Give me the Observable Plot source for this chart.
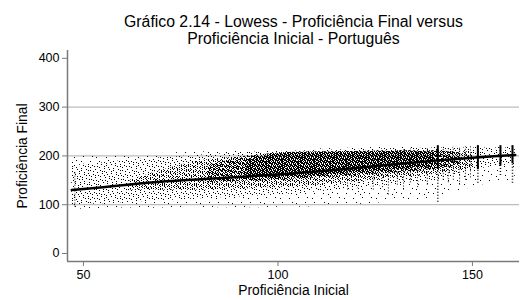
<!DOCTYPE html>
<html>
<head>
<meta charset="utf-8">
<script src="https://cdn.jsdelivr.net/npm/d3@7"></script>
<script src="https://cdn.jsdelivr.net/npm/@observablehq/plot@0.6"></script>
<style>
  html, body { margin: 0; padding: 0; background: #fff; }
  #chart { width: 520px; height: 300px; }
</style>
</head>
<body>
<svg id="patterns" width="0" height="0" style="position:absolute;left:0;top:0"><defs></defs></svg>
<div id="chart"></div>
<script>
// ---------------- DATA ----------------
const titleLines = ["Gráfico 2.14 - Lowess - Proficiência Final versus", "Proficiência Inicial - Português"];
const xTitle = "Proficiência Inicial";
const yTitle = "Proficiência Final";
const xTicks = [50, 100, 150];
const yTicks = [0, 100, 200, 300, 400];
const gridValues = [100, 200, 300];

// Lowess curve
const lowessX = [47, 55, 60, 70, 80, 90, 100, 110, 120, 130, 140, 150, 161];
const lowessY = [130, 136, 140, 147, 152, 157, 162, 168, 175, 183, 190, 196, 202];

// Point cloud envelopes by bins of Proficiência Inicial
const binX       = [47, 50, 55, 60, 65, 70, 75, 80, 85, 90, 95, 100, 105, 110, 115, 120, 125, 130, 135, 140, 145, 150, 155, 161];
const outerLow   = [90, 91, 92, 93, 93, 93, 94, 94, 94, 94, 94, 95, 95, 96, 98, 100, 103, 106, 110, 115, 125, 135, 145, 150];
const outerHigh  = [198, 199, 200, 202, 203, 205, 207, 208, 209, 210, 211, 212, 213, 214, 215, 216, 217, 218, 219, 220, 221, 221, 221, 221];
const sparseLow  = [98, 100, 102, 104, 106, 108, 110, 112, 114, 116, 118, 120, 123, 126, 130, 134, 138, 142, 146, 150, 158, 170, 178, 182];
const sparseHigh = [180, 183, 186, 190, 193, 196, 199, 202, 204, 206, 208, 209, 210, 211, 212, 213, 214, 215, 215, 216, 216, 216, 216, 216];
const medX       = [62, 70, 80, 90, 100, 110, 120, 130, 140, 150];
const medLow     = [130, 130, 130, 132, 135, 140, 147, 155, 162, 175];
const medHigh    = [150, 170, 190, 198, 205, 208, 209, 210, 210, 208];
const denseX     = [82, 90, 100, 110, 120, 130, 140, 147];
const denseLow   = [145, 148, 150, 155, 160, 165, 172, 182];
const denseHigh  = [180, 195, 206, 208, 209, 210, 210, 206];
const blackX     = [92, 100, 110, 120, 130, 140];
const blackLow   = [155, 156, 160, 166, 172, 178];
const blackHigh  = [190, 204, 207, 208, 209, 208];

// Columns of points at frequent score values
const columnX        = [47.8, 117.9, 120.7, 124.5, 126.9, 128.4, 130.7, 132.3, 134.1, 135.9, 138.4, 142.5, 143.8, 145.1, 146.7, 148.2, 149.5];
const columnLow      = [95, 130, 125, 130, 135, 120, 140, 130, 145, 135, 140, 150, 145, 150, 140, 150, 155];
const columnHigh     = [165, 205, 208, 210, 212, 210, 212, 213, 214, 214, 215, 218, 218, 218, 219, 219, 220];
const stripeX        = [141.1, 151.4, 157.2, 160.3];
const stripeLow      = [105, 144, 160, 144];
const stripeSolidLow = [172, 172, 180, 184];
const stripeHigh     = [221, 221, 221, 221];

// ---------------- STYLE: nested dot textures (low-discrepancy tile) ----------------
const TILE = 32;
const textureCounts = {fringe: 30, sparse: 110, medium: 290, dense: 560, black: 820};
const NS = "http://www.w3.org/2000/svg";
const defs = document.querySelector("#patterns defs");
for (const [id, n] of Object.entries(textureCounts)) {
  const p = document.createElementNS(NS, "pattern");
  p.setAttribute("id", id);
  p.setAttribute("width", TILE); p.setAttribute("height", TILE);
  p.setAttribute("patternUnits", "userSpaceOnUse");
  for (let i = 0; i < n; i++) {
    const r = document.createElementNS(NS, "rect");
    r.setAttribute("x", Math.floor(((0.5 + i * 0.7548776662) % 1) * TILE));
    r.setAttribute("y", Math.floor(((0.5 + i * 0.5698402910) % 1) * TILE));
    r.setAttribute("width", 1); r.setAttribute("height", 1);
    r.setAttribute("fill", "#000");
    p.appendChild(r);
  }
  defs.appendChild(p);
}

// ---------------- TABLES ----------------
const outer = binX.map((x, i) => ({x, lo: outerLow[i], hi: outerHigh[i]}));
const sparse = binX.map((x, i) => ({x, lo: sparseLow[i], hi: sparseHigh[i]}));
const medium = medX.map((x, i) => ({x, lo: medLow[i], hi: medHigh[i]}));
const dense = denseX.map((x, i) => ({x, lo: denseLow[i], hi: denseHigh[i]}));
const black = blackX.map((x, i) => ({x, lo: blackLow[i], hi: blackHigh[i]}));
const columns = columnX.map((x, i) => ({x, lo: columnLow[i], hi: columnHigh[i]}));
const stripes = stripeX.map((x, i) => ({x, lo: stripeLow[i], solid: stripeSolidLow[i], hi: stripeHigh[i]}));
const lowess = lowessX.map((x, i) => ({x, y: lowessY[i]}));

const xDomain = [45.9, 162.1];
const yDomain = [-16.4, 416];
const axisColor = "#7a7a7a";
const band = (data, fill) => Plot.areaY(data, {x: "x", y1: "lo", y2: "hi", fill, curve: "catmull-rom"});

const chart = Plot.plot({
  width: 520,
  height: 300,
  marginLeft: 67,
  marginRight: 1,
  marginTop: 50,
  marginBottom: 39,
  style: {fontFamily: "'Liberation Sans', Arial, sans-serif", fontSize: "12.5px", color: "#000", background: "#fff"},
  x: {domain: xDomain, axis: null},
  y: {domain: yDomain, axis: null},
  marks: [
    Plot.ruleY(gridValues, {stroke: "#bdbdbd", strokeWidth: 1.3}),
    band(outer, "url(#fringe)"),
    band(sparse, "url(#sparse)"),
    band(medium, "url(#medium)"),
    band(dense, "url(#dense)"),
    band(black, "url(#black)"),
    Plot.ruleX(columns, {x: "x", y1: "lo", y2: "hi", stroke: "#111", strokeWidth: 1, strokeDasharray: "1,2"}),
    Plot.ruleX(stripes, {x: "x", y1: "lo", y2: "hi", stroke: "#111", strokeWidth: 1.5, strokeDasharray: "1,2"}),
    Plot.ruleX(stripes, {x: "x", y1: "solid", y2: "hi", stroke: "#000", strokeWidth: 2}),
    Plot.line(lowess, {x: "x", y: "y", stroke: "#000", strokeWidth: 2.5, curve: "catmull-rom"}),
    Plot.ruleX([xDomain[0]], {stroke: axisColor, strokeWidth: 1.5}),
    Plot.ruleY([yDomain[0]], {stroke: axisColor, strokeWidth: 1.5}),
    Plot.axisY(yTicks, {anchor: "left", tickSize: 5, tickPadding: 3, stroke: axisColor, label: null, fontSize: 12.5}),
    Plot.axisX(xTicks, {anchor: "bottom", tickSize: 5, tickPadding: 4, stroke: axisColor, label: null, fontSize: 12.5}),
    Plot.text([titleLines[0]], {frameAnchor: "top", lineAnchor: "bottom", dy: -24, fontSize: 15.8, text: d => d}),
    Plot.text([titleLines[1]], {frameAnchor: "top", lineAnchor: "bottom", dy: -7, fontSize: 15.8, text: d => d}),
    Plot.text([xTitle], {frameAnchor: "bottom", lineAnchor: "middle", dy: 29, fontSize: 13.8, text: d => d}),
    Plot.text([yTitle], {frameAnchor: "left", textAnchor: "middle", lineAnchor: "middle", dx: -45, rotate: -90, fontSize: 13.8, text: d => d})
  ]
});
document.getElementById("chart").appendChild(chart);
</script>
</body>
</html>
